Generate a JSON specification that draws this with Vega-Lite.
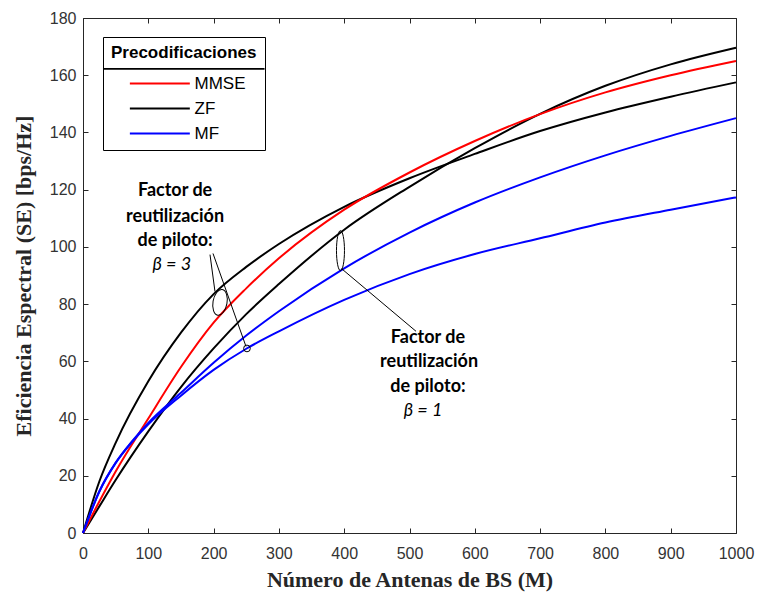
{
  "$schema": "https://vega.github.io/schema/vega-lite/v6.json",
  "width": 653,
  "height": 515,
  "autosize": "none",
  "padding": {"left": 83, "top": 18, "right": 25, "bottom": 62},
  "background": "white",
  "config": {
    "view": {"stroke": null},
    "axis": {
      "domainColor": "#262626",
      "tickColor": "#262626",
      "labelColor": "#333333",
      "labelFont": "Liberation Sans",
      "labelFontSize": 16,
      "titleFont": "Liberation Serif",
      "titleFontWeight": "bold",
      "titleFontSize": 22,
      "titleColor": "#262626",
      "grid": false,
      "tickSize": -5,
      "labelFlush": false
    }
  },
  "datasets": {
    "curves": [
      {"curve": "ZF b3", "prec": "ZF", "M": 0, "SE": 0},
      {"curve": "ZF b3", "prec": "ZF", "M": 25, "SE": 18},
      {"curve": "ZF b3", "prec": "ZF", "M": 50, "SE": 31.5},
      {"curve": "ZF b3", "prec": "ZF", "M": 100, "SE": 53},
      {"curve": "ZF b3", "prec": "ZF", "M": 150, "SE": 70},
      {"curve": "ZF b3", "prec": "ZF", "M": 200, "SE": 83.5},
      {"curve": "ZF b3", "prec": "ZF", "M": 250, "SE": 93},
      {"curve": "ZF b3", "prec": "ZF", "M": 300, "SE": 101},
      {"curve": "ZF b3", "prec": "ZF", "M": 400, "SE": 114},
      {"curve": "ZF b3", "prec": "ZF", "M": 500, "SE": 124},
      {"curve": "ZF b3", "prec": "ZF", "M": 600, "SE": 132.5},
      {"curve": "ZF b3", "prec": "ZF", "M": 700, "SE": 140.5},
      {"curve": "ZF b3", "prec": "ZF", "M": 800, "SE": 147},
      {"curve": "ZF b3", "prec": "ZF", "M": 900, "SE": 152.5},
      {"curve": "ZF b3", "prec": "ZF", "M": 1000, "SE": 157.5},

      {"curve": "ZF b1", "prec": "ZF", "M": 0, "SE": 0},
      {"curve": "ZF b1", "prec": "ZF", "M": 25, "SE": 9.3},
      {"curve": "ZF b1", "prec": "ZF", "M": 50, "SE": 18.5},
      {"curve": "ZF b1", "prec": "ZF", "M": 100, "SE": 35.5},
      {"curve": "ZF b1", "prec": "ZF", "M": 150, "SE": 51},
      {"curve": "ZF b1", "prec": "ZF", "M": 200, "SE": 64.5},
      {"curve": "ZF b1", "prec": "ZF", "M": 250, "SE": 76.5},
      {"curve": "ZF b1", "prec": "ZF", "M": 300, "SE": 87},
      {"curve": "ZF b1", "prec": "ZF", "M": 400, "SE": 106},
      {"curve": "ZF b1", "prec": "ZF", "M": 500, "SE": 121},
      {"curve": "ZF b1", "prec": "ZF", "M": 600, "SE": 134.5},
      {"curve": "ZF b1", "prec": "ZF", "M": 700, "SE": 146.5},
      {"curve": "ZF b1", "prec": "ZF", "M": 800, "SE": 156.3},
      {"curve": "ZF b1", "prec": "ZF", "M": 900, "SE": 163.8},
      {"curve": "ZF b1", "prec": "ZF", "M": 1000, "SE": 169.6},

      {"curve": "MMSE b3", "prec": "MMSE", "M": 0, "SE": 0},
      {"curve": "MMSE b3", "prec": "MMSE", "M": 25, "SE": 11},
      {"curve": "MMSE b3", "prec": "MMSE", "M": 50, "SE": 21.5},
      {"curve": "MMSE b3", "prec": "MMSE", "M": 100, "SE": 40},
      {"curve": "MMSE b3", "prec": "MMSE", "M": 150, "SE": 58},
      {"curve": "MMSE b3", "prec": "MMSE", "M": 200, "SE": 73.5},
      {"curve": "MMSE b3", "prec": "MMSE", "M": 250, "SE": 85.5},
      {"curve": "MMSE b3", "prec": "MMSE", "M": 300, "SE": 96},
      {"curve": "MMSE b3", "prec": "MMSE", "M": 400, "SE": 113},
      {"curve": "MMSE b3", "prec": "MMSE", "M": 500, "SE": 126},
      {"curve": "MMSE b3", "prec": "MMSE", "M": 600, "SE": 137},
      {"curve": "MMSE b3", "prec": "MMSE", "M": 700, "SE": 146.4},
      {"curve": "MMSE b3", "prec": "MMSE", "M": 800, "SE": 154},
      {"curve": "MMSE b3", "prec": "MMSE", "M": 900, "SE": 160},
      {"curve": "MMSE b3", "prec": "MMSE", "M": 1000, "SE": 165},

      {"curve": "MF b1", "prec": "MF", "M": 0, "SE": 0},
      {"curve": "MF b1", "prec": "MF", "M": 25, "SE": 14.5},
      {"curve": "MF b1", "prec": "MF", "M": 50, "SE": 24.5},
      {"curve": "MF b1", "prec": "MF", "M": 75, "SE": 32},
      {"curve": "MF b1", "prec": "MF", "M": 100, "SE": 38.5},
      {"curve": "MF b1", "prec": "MF", "M": 150, "SE": 49},
      {"curve": "MF b1", "prec": "MF", "M": 200, "SE": 59.5},
      {"curve": "MF b1", "prec": "MF", "M": 250, "SE": 69},
      {"curve": "MF b1", "prec": "MF", "M": 300, "SE": 77.5},
      {"curve": "MF b1", "prec": "MF", "M": 400, "SE": 92.5},
      {"curve": "MF b1", "prec": "MF", "M": 500, "SE": 105},
      {"curve": "MF b1", "prec": "MF", "M": 600, "SE": 115.5},
      {"curve": "MF b1", "prec": "MF", "M": 700, "SE": 124.3},
      {"curve": "MF b1", "prec": "MF", "M": 800, "SE": 132},
      {"curve": "MF b1", "prec": "MF", "M": 900, "SE": 138.8},
      {"curve": "MF b1", "prec": "MF", "M": 1000, "SE": 145},

      {"curve": "MF b3", "prec": "MF", "M": 0, "SE": 0},
      {"curve": "MF b3", "prec": "MF", "M": 25, "SE": 14.5},
      {"curve": "MF b3", "prec": "MF", "M": 50, "SE": 24.5},
      {"curve": "MF b3", "prec": "MF", "M": 75, "SE": 31.8},
      {"curve": "MF b3", "prec": "MF", "M": 100, "SE": 38},
      {"curve": "MF b3", "prec": "MF", "M": 150, "SE": 48},
      {"curve": "MF b3", "prec": "MF", "M": 200, "SE": 57},
      {"curve": "MF b3", "prec": "MF", "M": 250, "SE": 64.4},
      {"curve": "MF b3", "prec": "MF", "M": 300, "SE": 70.5},
      {"curve": "MF b3", "prec": "MF", "M": 400, "SE": 81.5},
      {"curve": "MF b3", "prec": "MF", "M": 500, "SE": 90.5},
      {"curve": "MF b3", "prec": "MF", "M": 600, "SE": 97.5},
      {"curve": "MF b3", "prec": "MF", "M": 700, "SE": 103},
      {"curve": "MF b3", "prec": "MF", "M": 800, "SE": 108.5},
      {"curve": "MF b3", "prec": "MF", "M": 900, "SE": 113},
      {"curve": "MF b3", "prec": "MF", "M": 1000, "SE": 117.3}
    ],
    "pointers": [
      {"x": 194.5, "y": 97.3, "x2": 202.1, "y2": 84.4},
      {"x": 199.1, "y": 97.7, "x2": 249.6, "y2": 65.2},
      {"x": 395.9, "y": 92.4, "x2": 510, "y2": 70.5}
    ],
    "legendrule": [
      {"a": 30.6, "a2": 278, "b": 161.9, "b2": 162.5}
    ],
    "boldtext": [
      {"x": 141, "y": 119.6, "t": "Factor de"},
      {"x": 141, "y": 110.6, "t": "reutilización"},
      {"x": 141, "y": 102.2, "t": "de piloto:"},
      {"x": 528.3, "y": 68.0, "t": "Factor de"},
      {"x": 530, "y": 59.6, "t": "reutilización"},
      {"x": 528.3, "y": 50.9, "t": "de piloto:"}
    ],
    "italictext": [
      {"x": 136, "y": 93.5, "t": "β = 3"},
      {"x": 520.7, "y": 42.6, "t": "β = 1"}
    ]
  },
  "resolve": {"axis": {"x": "independent", "y": "independent"}},
  "layer": [
    {
      "data": {"name": "legendrule"},
      "mark": {"type": "rect", "color": "#000000", "opacity": 1},
      "encoding": {
        "x": {"field": "a", "type": "quantitative", "scale": {"domain": [0, 1000], "nice": false}, "axis": null},
        "x2": {"field": "a2"},
        "y": {"field": "b", "type": "quantitative", "scale": {"domain": [0, 180], "nice": false}, "axis": null},
        "y2": {"field": "b2"}
      }
    },
    {
      "data": {"name": "curves"},
      "mark": {"type": "line", "strokeWidth": 2, "interpolate": "monotone"},
      "encoding": {
        "x": {"field": "M", "type": "quantitative", "scale": {"domain": [0, 1000], "nice": false},
          "axis": {"values": [0, 100, 200, 300, 400, 500, 600, 700, 800, 900, 1000], "format": "d", "labelPadding": 17, "title": "Número de Antenas de BS (M)", "titlePadding": 8}},
        "y": {"field": "SE", "type": "quantitative", "scale": {"domain": [0, 180], "nice": false},
          "axis": {"values": [0, 20, 40, 60, 80, 100, 120, 140, 160, 180], "format": "d", "labelPadding": 12, "title": "Eficiencia Espectral (SE) [bps/Hz]", "titlePadding": 14}},
        "color": {"field": "prec", "type": "nominal",
          "scale": {"domain": ["MMSE", "ZF", "MF"], "range": ["#ff0000", "#000000", "#0000ff"]},
          "legend": {"title": "Precodificaciones", "orient": "none", "legendX": 20, "legendY": 19,
            "padding": 8, "strokeColor": "#000000",
            "titleFont": "Liberation Sans", "titleFontSize": 17,
            "titleFontWeight": "bold", "titleColor": "#000000", "labelFont": "Liberation Sans",
            "labelFontSize": 17, "labelColor": "#000000", "symbolType": "M1.66,0H11.26",
            "symbolSize": 156, "symbolStrokeWidth": 2, "labelOffset": 66.5, "rowPadding": 7, "titlePadding": 13}},
        "detail": {"field": "curve"}
      }
    },
    {
      "data": {"values": [{"M": 0, "SE": 0}]},
      "mark": {"type": "point", "opacity": 0},
      "encoding": {
        "x": {"field": "M", "type": "quantitative", "axis": {"orient": "top", "values": [0, 100, 200, 300, 400, 500, 600, 700, 800, 900, 1000], "labels": false, "title": null}},
        "y": {"field": "SE", "type": "quantitative", "axis": {"orient": "right", "values": [0, 20, 40, 60, 80, 100, 120, 140, 160, 180], "labels": false, "title": null}}
      }
    },
    {
      "data": {"name": "pointers"},
      "mark": {"type": "rule", "color": "#000000", "strokeWidth": 1},
      "encoding": {
        "x": {"field": "x", "type": "quantitative", "axis": null},
        "y": {"field": "y", "type": "quantitative", "axis": null},
        "x2": {"field": "x2"},
        "y2": {"field": "y2"}
      }
    },
    {
      "data": {"values": [{"x": 209.8, "y": 80.6}]},
      "mark": {"type": "point", "shape": "M-0.54,0A0.54,1 0 1,0 0.54,0A0.54,1 0 1,0 -0.54,0Z", "size": 676, "angle": 10, "filled": false, "color": "#000000", "strokeWidth": 1, "opacity": 1},
      "encoding": {"x": {"field": "x", "type": "quantitative", "axis": null}, "y": {"field": "y", "type": "quantitative", "axis": null}}
    },
    {
      "data": {"values": [{"x": 394.3, "y": 98.7}]},
      "mark": {"type": "point", "shape": "M-0.2,0A0.2,1 0 1,0 0.2,0A0.2,1 0 1,0 -0.2,0Z", "size": 1600, "filled": false, "color": "#000000", "strokeWidth": 1, "opacity": 1},
      "encoding": {"x": {"field": "x", "type": "quantitative", "axis": null}, "y": {"field": "y", "type": "quantitative", "axis": null}}
    },
    {
      "data": {"values": [{"x": 251.1, "y": 64.5}]},
      "mark": {"type": "point", "shape": "circle", "size": 45, "filled": false, "color": "#000000", "strokeWidth": 1, "opacity": 1},
      "encoding": {"x": {"field": "x", "type": "quantitative", "axis": null}, "y": {"field": "y", "type": "quantitative", "axis": null}}
    },
    {
      "data": {"name": "boldtext"},
      "mark": {"type": "text", "font": "Lato", "fontWeight": "bold", "fontSize": 18, "color": "#000000", "align": "center", "baseline": "middle"},
      "encoding": {"x": {"field": "x", "type": "quantitative", "axis": null}, "y": {"field": "y", "type": "quantitative", "axis": null}, "text": {"field": "t"}}
    },
    {
      "data": {"name": "italictext"},
      "mark": {"type": "text", "font": "Lato", "fontStyle": "italic", "fontSize": 18, "color": "#000000", "align": "center", "baseline": "middle"},
      "encoding": {"x": {"field": "x", "type": "quantitative", "axis": null}, "y": {"field": "y", "type": "quantitative", "axis": null}, "text": {"field": "t"}}
    }
  ]
}
